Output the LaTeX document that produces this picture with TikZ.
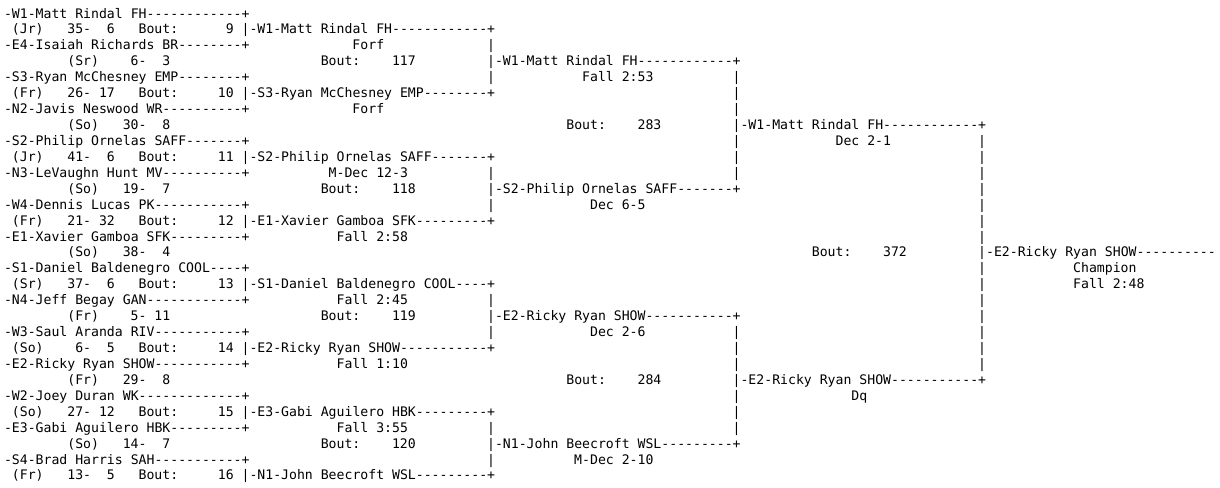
\documentclass[tikz,border=0pt]{standalone}
\usepackage{fontspec}
\setmonofont{DejaVu Sans Mono}
\ExplSyntaxOn
\cs_new:Npn \rdash #1 { \prg_replicate:nn {#1} {-} }
\ExplSyntaxOff
\tikzset{
  txt/.style={anchor=base west,inner sep=0pt,outer sep=0pt,text=black,
    font=\ttfamily\fontsize{9.87pt}{12pt}\selectfont},
  rtxt/.style={txt,anchor=base east}
}
% #1 = column, #2 = row, #3 = text
\newcommand\putl[3]{\node[txt] (r#2c#1) at ({4+7.92*(#1)},{18+15.93*((#2)-1)}) {#3};}
% right aligned: #1 = last column
\newcommand\putr[3]{\node[rtxt] (e#2c#1) at ({4+7.92*((#1)+1)},{18+15.93*((#2)-1)}) {#3};}
\newcommand\toprec[5]{\putl{1}{#1}{(#2)}\putr{9}{#1}{#3}\putl{10}{#1}{-}\putr{13}{#1}{#4}\putl{17}{#1}{Bout:}\putr{28}{#1}{#5}}
\newcommand\botrec[4]{\putl{8}{#1}{(#2)}\putr{16}{#1}{#3}\putl{17}{#1}{-}\putr{20}{#1}{#4}}
\begin{document}
\begin{tikzpicture}[x=0.75pt,y=-0.75pt]
\useasboundingbox (0,0) rectangle (1220,487);
\fill[white] (0,0) rectangle (1220,487);
\clip (0,0) rectangle (1220,487);
% row 1
\putl{0}{1}{-W1-Matt Rindal FH\rdash{12}+}
% row 2
\toprec{2}{Jr}{35}{6}{9}
\putl{30}{2}{|-W1-Matt Rindal FH\rdash{12}+}
% row 3
\putl{0}{3}{-E4-Isaiah Richards BR\rdash{8}+}
\putl{44}{3}{Forf}
\putl{61}{3}{|}
% row 4
\botrec{4}{Sr}{6}{3}
\putl{40}{4}{Bout:}\putr{51}{4}{117}
\putl{61}{4}{|-W1-Matt Rindal FH\rdash{12}+}
% row 5
\putl{0}{5}{-S3-Ryan McChesney EMP\rdash{8}+}
\putl{61}{5}{|}
\putl{73}{5}{Fall 2:53}
\putl{92}{5}{|}
% row 6
\toprec{6}{Fr}{26}{17}{10}
\putl{30}{6}{|-S3-Ryan McChesney EMP\rdash{8}+}
\putl{92}{6}{|}
% row 7
\putl{0}{7}{-N2-Javis Neswood WR\rdash{10}+}
\putl{44}{7}{Forf}
\putl{92}{7}{|}
% row 8
\botrec{8}{So}{30}{8}
\putl{71}{8}{Bout:}\putr{82}{8}{283}
\putl{92}{8}{|-W1-Matt Rindal FH\rdash{12}+}
% row 9
\putl{0}{9}{-S2-Philip Ornelas SAFF\rdash{7}+}
\putl{92}{9}{|}
\putl{105}{9}{Dec 2-1}
\putl{123}{9}{|}
% row 10
\toprec{10}{Jr}{41}{6}{11}
\putl{30}{10}{|-S2-Philip Ornelas SAFF\rdash{7}+}
\putl{92}{10}{|}
\putl{123}{10}{|}
% row 11
\putl{0}{11}{-N3-LeVaughn Hunt MV\rdash{10}+}
\putl{41}{11}{M-Dec 12-3}
\putl{61}{11}{|}
\putl{92}{11}{|}
\putl{123}{11}{|}
% row 12
\botrec{12}{So}{19}{7}
\putl{40}{12}{Bout:}\putr{51}{12}{118}
\putl{61}{12}{|-S2-Philip Ornelas SAFF\rdash{7}+}
\putl{123}{12}{|}
% row 13
\putl{0}{13}{-W4-Dennis Lucas PK\rdash{11}+}
\putl{61}{13}{|}
\putl{74}{13}{Dec 6-5}
\putl{123}{13}{|}
% row 14
\toprec{14}{Fr}{21}{32}{12}
\putl{30}{14}{|-E1-Xavier Gamboa SFK\rdash{9}+}
\putl{123}{14}{|}
% row 15
\putl{0}{15}{-E1-Xavier Gamboa SFK\rdash{9}+}
\putl{42}{15}{Fall 2:58}
\putl{123}{15}{|}
% row 16
\botrec{16}{So}{38}{4}
\putl{102}{16}{Bout:}\putr{113}{16}{372}
\putl{123}{16}{|-E2-Ricky Ryan SHOW\rdash{10}}
% row 17
\putl{0}{17}{-S1-Daniel Baldenegro COOL\rdash{4}+}
\putl{123}{17}{|}
\putl{135}{17}{Champion}
% row 18
\toprec{18}{Sr}{37}{6}{13}
\putl{30}{18}{|-S1-Daniel Baldenegro COOL\rdash{4}+}
\putl{123}{18}{|}
\putl{135}{18}{Fall 2:48}
% row 19
\putl{0}{19}{-N4-Jeff Begay GAN\rdash{12}+}
\putl{42}{19}{Fall 2:45}
\putl{61}{19}{|}
\putl{123}{19}{|}
% row 20
\botrec{20}{Fr}{5}{11}
\putl{40}{20}{Bout:}\putr{51}{20}{119}
\putl{61}{20}{|-E2-Ricky Ryan SHOW\rdash{11}+}
\putl{123}{20}{|}
% row 21
\putl{0}{21}{-W3-Saul Aranda RIV\rdash{11}+}
\putl{61}{21}{|}
\putl{74}{21}{Dec 2-6}
\putl{92}{21}{|}
\putl{123}{21}{|}
% row 22
\toprec{22}{So}{6}{5}{14}
\putl{30}{22}{|-E2-Ricky Ryan SHOW\rdash{11}+}
\putl{92}{22}{|}
\putl{123}{22}{|}
% row 23
\putl{0}{23}{-E2-Ricky Ryan SHOW\rdash{11}+}
\putl{42}{23}{Fall 1:10}
\putl{92}{23}{|}
\putl{123}{23}{|}
% row 24
\botrec{24}{Fr}{29}{8}
\putl{71}{24}{Bout:}\putr{82}{24}{284}
\putl{92}{24}{|-E2-Ricky Ryan SHOW\rdash{11}+}
% row 25
\putl{0}{25}{-W2-Joey Duran WK\rdash{13}+}
\putl{92}{25}{|}
\putl{107}{25}{Dq}
% row 26
\toprec{26}{So}{27}{12}{15}
\putl{30}{26}{|-E3-Gabi Aguilero HBK\rdash{9}+}
\putl{92}{26}{|}
% row 27
\putl{0}{27}{-E3-Gabi Aguilero HBK\rdash{9}+}
\putl{42}{27}{Fall 3:55}
\putl{61}{27}{|}
\putl{92}{27}{|}
% row 28
\botrec{28}{So}{14}{7}
\putl{40}{28}{Bout:}\putr{51}{28}{120}
\putl{61}{28}{|-N1-John Beecroft WSL\rdash{9}+}
% row 29
\putl{0}{29}{-S4-Brad Harris SAH\rdash{11}+}
\putl{61}{29}{|}
\putl{72}{29}{M-Dec 2-10}
% row 30
\toprec{30}{Fr}{13}{5}{16}
\putl{30}{30}{|-N1-John Beecroft WSL\rdash{9}+}
\end{tikzpicture}
\end{document}
